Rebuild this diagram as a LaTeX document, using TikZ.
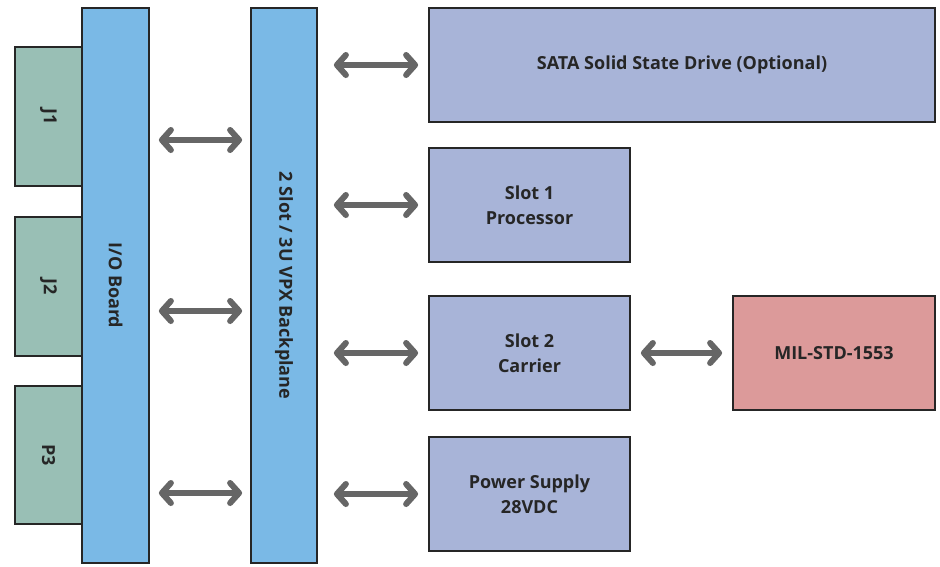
\documentclass[tikz,border=0pt]{standalone}
\usepackage{fontspec}
\setmainfont{Open Sans}
\usetikzlibrary{arrows.meta}
\definecolor{connfill}{HTML}{99BFB5}
\definecolor{boardfill}{HTML}{7AB9E6}
\definecolor{slotfill}{HTML}{A8B4D8}
\definecolor{busfill}{HTML}{DC9A9A}
\definecolor{arrowgray}{HTML}{666666}
\begin{document}
\begin{tikzpicture}
[x=1pt,y=-1pt,
  boxdecorate/.style={draw=black!85,line width=1.8pt,inner sep=0pt,align=center,
    font=\bfseries\fontsize{18}{25}\selectfont,text=black!85},%
  labeldecorate/.style={rotate=-90,font=\bfseries\fontsize{18}{22}\selectfont,text=black!85},%
  linedecorate/.style={arrowgray,line width=6pt,shorten <=10pt,shorten >=10pt,
    {Straight Barb[length=9pt,width=20pt,line cap=round,line join=round]}-{Straight Barb[length=9pt,width=20pt,line cap=round,line join=round]}}]
\useasboundingbox (0,0) rectangle (940,566);
%% connectors on the left
\foreach \nodename/\y/\h/\name in {j1/116.5/139/J1, j2/286.5/139/J2, p3/455/138/P3} {
  \node (\nodename) at (48.5,\y) [boxdecorate,fill=connfill,minimum width=67pt,
    minimum height=\h pt] {};
  \node [labeldecorate] at (\nodename) {\name};
}
%% boards
\node (io) at (115.5,285.5) [boxdecorate,fill=boardfill,minimum width=67pt,
  minimum height=555pt] {};
\node [labeldecorate] at (io) {I/O Board};
\node (bp) at (284,285.5) [boxdecorate,fill=boardfill,minimum width=66pt,
  minimum height=555pt] {};
\node [labeldecorate] at (bp) {2 Slot / 3U VPX Backplane};
%% modules
\foreach \nodename/\x/\y/\w/\colour/\name in {sata/682/65/506/slotfill/{SATA Solid State Drive (Optional)},
  slota/529.5/205/201/slotfill/{Slot 1\\Processor}, slotb/529.5/353/201/slotfill/{Slot 2\\Carrier},
  power/529.5/494/201/slotfill/{Power Supply\\28VDC}, mil/834/353/202/busfill/{MIL-STD-1553}} {
  \node (\nodename) at (\x,\y) [boxdecorate,fill=\colour,minimum width=\w pt,
    minimum height=114pt] {\name};
}
%% links
\foreach \coordname/\y in {la/140, lb/311, lc/493} {
  \coordinate (\coordname) at (0,\y);
  \draw[linedecorate,shorten <=9pt,shorten >=8pt] (io.east |- \coordname) -- (bp.west |- \coordname);
}
\foreach \endnode in {sata, slota, slotb, power} {
  \draw[linedecorate,shorten <=16pt] (bp.east |- \endnode) -- (\endnode.west);
}
\draw[linedecorate] (slotb.east) -- (mil.west);
\end{tikzpicture}
\end{document}
